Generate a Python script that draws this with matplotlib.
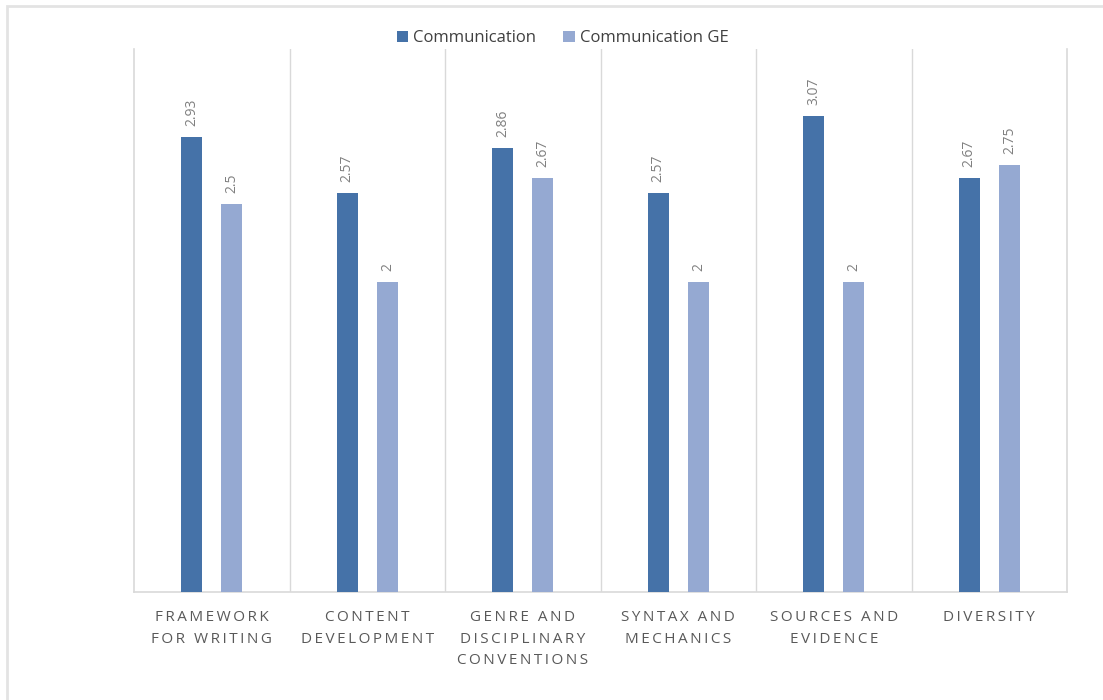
import numpy as np
import matplotlib
matplotlib.use("Agg")
import matplotlib.pyplot as plt
from matplotlib.patches import Rectangle

# ====== DATA ======
categories = [
    "FRAMEWORK\nFOR WRITING",
    "CONTENT\nDEVELOPMENT",
    "GENRE AND\nDISCIPLINARY\nCONVENTIONS",
    "SYNTAX AND\nMECHANICS",
    "SOURCES AND\nEVIDENCE",
    "DIVERSITY",
]
communication = [2.93, 2.57, 2.86, 2.57, 3.07, 2.67]
communication_ge = [2.5, 2, 2.67, 2, 2, 2.75]
series_names = ["Communication", "Communication GE"]

DARK = "#4572a8"
LIGHT = "#95a9d2"
GRID = "#d9d9d9"
TEXT = "#595959"

plt.rcParams["font.family"] = ["Open Sans", "DejaVu Sans"]


def spaced(label):
    # widen the category captions with thin spaces between letters
    return "\n".join("\u2009".join(line) for line in label.split("\n"))


fig = plt.figure(figsize=(11.03, 7), dpi=100)
ax = fig.add_axes([134 / 1103, 1 - 592 / 700, (1067 - 134) / 1103, (592 - 49) / 700])

# outer chart frame
fig.patches.append(Rectangle((7 / 1103, -0.1), 1.2, 1 - 6 / 700 + 0.1,
                             transform=fig.transFigure, fill=False,
                             edgecolor="#e3e3e3", linewidth=2, zorder=0))

x = np.arange(len(categories))
offset = 0.13
width = 0.135

b1 = ax.bar(x - offset, communication, width, color=DARK, label=series_names[0], zorder=3)
b2 = ax.bar(x + offset, communication_ge, width, color=LIGHT, label=series_names[1], zorder=3)

# rotated value labels above each bar
for bars, vals in ((b1, communication), (b2, communication_ge)):
    for rect, v in zip(bars, vals):
        ax.annotate(f"{v:g}", (rect.get_x() + rect.get_width() / 2, v),
                    xytext=(0, 8), textcoords="offset points",
                    rotation=90, ha="center", va="bottom",
                    fontsize=10, color="#808080")

ax.set_xlim(-0.5, len(categories) - 0.5)
ax.set_ylim(0, 3.5)

# vertical separators between categories
for b in np.arange(0.5, len(categories) - 0.5):
    ax.axvline(b, color=GRID, linewidth=1, zorder=1)

ax.set_yticks([])
ax.set_xticks(x)
ax.set_xticklabels([spaced(c) for c in categories], fontsize=11, color=TEXT,
                   linespacing=1.6)
ax.tick_params(axis="x", length=0, pad=13)

ax.spines["top"].set_visible(False)
for side in ("left", "right", "bottom"):
    ax.spines[side].set_color(GRID)
    ax.spines[side].set_linewidth(1.2)

fig.legend(loc="upper center", bbox_to_anchor=(0.51, 0.978), ncol=2,
           frameon=False, fontsize=12, handlelength=0.7, handleheight=0.7,
           handletextpad=0.3, columnspacing=1.6, labelcolor="#404040")

plt.savefig("out.png", dpi=100)
